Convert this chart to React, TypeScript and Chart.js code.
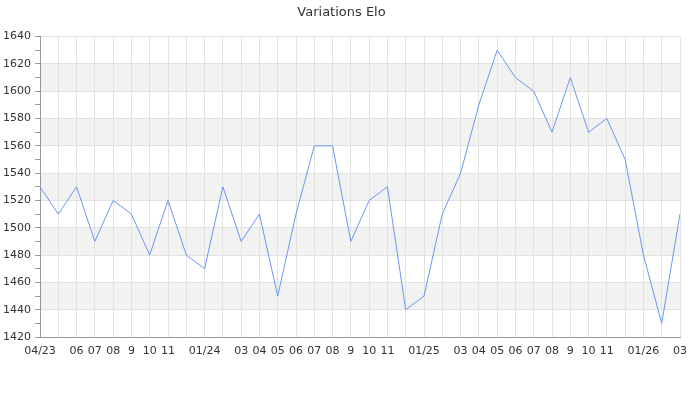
import React, { useEffect, useRef } from "react";
import { Chart, registerables } from "chart.js";

Chart.register(...registerables);

const monthLabels: string[] = [
  "04/23", "", "06", "07", "08", "9", "10", "11", "", "01/24", "", "03",
  "04", "05", "06", "07", "08", "9", "10", "11", "", "01/25", "", "03",
  "04", "05", "06", "07", "08", "9", "10", "11", "", "01/26", "", "03",
];

const eloValues: number[] = [
  1530, 1510, 1530, 1490, 1520, 1510, 1480, 1520, 1480, 1470, 1530, 1490,
  1510, 1450, 1510, 1560, 1560, 1490, 1520, 1530, 1440, 1450, 1510, 1540,
  1590, 1630, 1610, 1600, 1570, 1610, 1570, 1580, 1550, 1480, 1430, 1510,
];

const bandRanges: [number, number][] = [
  [1440, 1460], [1480, 1500], [1520, 1540], [1560, 1580], [1600, 1620],
];

const FONT = "'DejaVu Sans', sans-serif";

const bandsPlugin = {
  id: "bands",
  beforeDraw(chart: any) {
    const { ctx, chartArea, scales } = chart;
    const y = scales.y;
    ctx.save();
    ctx.fillStyle = "#f2f2f2";
    for (const [a, b] of bandRanges) {
      const y1 = y.getPixelForValue(b);
      const y2 = y.getPixelForValue(a);
      ctx.fillRect(chartArea.left, y1, chartArea.right - chartArea.left, y2 - y1);
    }
    ctx.restore();
  },
};

export default function App() {
  const ref = useRef<HTMLCanvasElement>(null);
  useEffect(() => {
    document.body.style.margin = "0";
    const chart = new Chart(ref.current!, {
      type: "line",
      data: {
        labels: monthLabels,
        datasets: [
          {
            data: eloValues,
            borderColor: "#6b97f0",
            borderWidth: 1,
            pointRadius: 0,
            tension: 0,
            fill: false,
          },
        ],
      },
      options: {
        animation: false,
        responsive: false,
        layout: { padding: { left: 3, right: 20, top: 0, bottom: 0 } },
        plugins: {
          legend: { display: false },
          tooltip: { enabled: false },
          title: {
            display: true,
            text: "Variations Elo",
            color: "#333",
            font: { family: FONT, size: 13, weight: "normal" },
            padding: { top: 5, bottom: 16 },
          },
        },
        scales: {
          x: {
            offset: false,
            grid: {
              color: "#e2e2e2",
              tickLength: 0,
              drawTicks: false,
            },
            border: { color: "#999" },
            ticks: {
              autoSkip: false,
              maxRotation: 0,
              color: "#333",
              padding: 8,
              font: { family: FONT, size: 11 },
            },
            afterFit: (s: any) => {
              s.height = 63;
            },
          },
          y: {
            min: 1420,
            max: 1640,
            grid: {
              color: (c: any) => (c.tick && c.tick.value % 20 === 0 ? "#e2e2e2" : "transparent"),
              tickColor: "#999",
              tickLength: 5,
            },
            border: { color: "#999" },
            ticks: {
              stepSize: 10,
              autoSkip: false,
              color: "#333",
              padding: 4,
              font: { family: FONT, size: 11 },
              callback: (v: any) => (Number(v) % 20 === 0 ? String(v) : ""),
            },
            afterFit: (s: any) => {
              s.width = 37;
            },
          },
        },
      },
      plugins: [bandsPlugin],
    });
    return () => chart.destroy();
  }, []);
  return <canvas ref={ref} width={700} height={400} />;
}
